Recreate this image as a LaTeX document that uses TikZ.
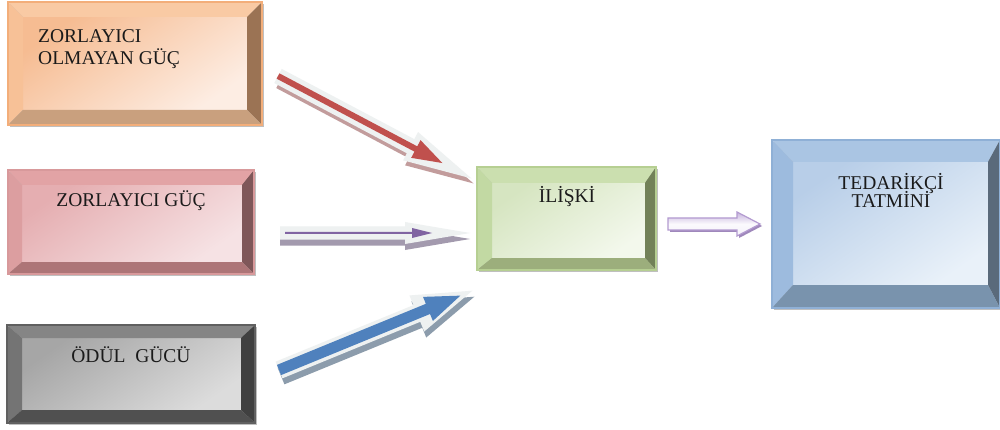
\documentclass[tikz,border=0pt]{standalone}
\usepackage{fontspec}
\setmainfont{Liberation Serif}
\usetikzlibrary{calc,fit}

% colour sets: face gradient, bevel sides and outer edge
\definecolor{zor-face1}{HTML}{F6BC92}\definecolor{zor-face2}{HTML}{FDEDE3}
\definecolor{zor-top}{HTML}{F9CAA4}\definecolor{zor-left}{HTML}{F7C197}
\definecolor{zor-right}{HTML}{9B7354}\definecolor{zor-bottom}{HTML}{C9A07E}
\definecolor{zor-edge}{HTML}{F3AE7A}

\definecolor{zg-face1}{HTML}{E5AEB1}\definecolor{zg-face2}{HTML}{F6E2E4}
\definecolor{zg-top}{HTML}{E2A3A5}\definecolor{zg-left}{HTML}{DC9EA0}
\definecolor{zg-right}{HTML}{7F5759}\definecolor{zg-bottom}{HTML}{AD7577}
\definecolor{zg-edge}{HTML}{D8999B}

\definecolor{od-face1}{HTML}{A6A6A6}\definecolor{od-face2}{HTML}{DCDCDC}
\definecolor{od-top}{HTML}{858585}\definecolor{od-left}{HTML}{747474}
\definecolor{od-right}{HTML}{404040}\definecolor{od-bottom}{HTML}{505050}
\definecolor{od-edge}{HTML}{606060}

\definecolor{il-face1}{HTML}{D6E5C1}\definecolor{il-face2}{HTML}{F3F8EC}
\definecolor{il-top}{HTML}{CBDFAF}\definecolor{il-left}{HTML}{C2D9A3}
\definecolor{il-right}{HTML}{728158}\definecolor{il-bottom}{HTML}{9CAE7C}
\definecolor{il-edge}{HTML}{B6CF92}

\definecolor{td-face1}{HTML}{B8CEE8}\definecolor{td-face2}{HTML}{E9F1F9}
\definecolor{td-top}{HTML}{AAC5E3}\definecolor{td-left}{HTML}{9DBBDE}
\definecolor{td-right}{HTML}{5A6A7B}\definecolor{td-bottom}{HTML}{7993AD}
\definecolor{td-edge}{HTML}{8FB0D6}

\definecolor{arrowlight}{HTML}{EEF1F1}
\definecolor{redarrow}{HTML}{C0504D}\definecolor{redshadow}{HTML}{C29C9C}
\definecolor{purparrow}{HTML}{8064A2}\definecolor{purpshadow}{HTML}{A39AAE}
\definecolor{bluearrow}{HTML}{4F81BD}\definecolor{blueshadow}{HTML}{8C9CAC}
\definecolor{lavedge}{HTML}{B39BD0}\definecolor{lavshadow}{HTML}{9F88BB}
\definecolor{lavtop}{HTML}{F5F1FA}\definecolor{lavbot}{HTML}{C6B3DD}
\definecolor{textcol}{HTML}{1A1A1A}

\tikzset{
  boxnode/.style={inner sep=0pt, outer sep=0pt},
  lbl/.style={font=\fontsize{19.5}{22}\selectfont, text=textcol, inner sep=0pt},
  boxshadow/.style={fill=black!25},
}

% bevelled box: name:(x1,y1)(x2,y2)[left,top,right,bottom bevel]
\def\bevelbox#1:(#2,#3)(#4,#5)[#6,#7,#8,#9]{%
  \fill[boxshadow] ({#2+2},{#3+2}) rectangle ({#4+2},{#5+2});
  \shade[top color=#1-face1, bottom color=#1-face2, shading angle=35]
    ({#2+#6},{#3+#7}) rectangle ({#4-#8},{#5-#9});
  \fill[#1-top] (#2,#3) -- (#4,#3) -- ({#4-#8},{#3+#7}) -- ({#2+#6},{#3+#7}) -- cycle;
  \fill[#1-left] (#2,#3) -- ({#2+#6},{#3+#7}) -- ({#2+#6},{#5-#9}) -- (#2,#5) -- cycle;
  \fill[#1-right] (#4,#3) -- (#4,#5) -- ({#4-#8},{#5-#9}) -- ({#4-#8},{#3+#7}) -- cycle;
  \fill[#1-bottom] (#2,#5) -- (#4,#5) -- ({#4-#8},{#5-#9}) -- ({#2+#6},{#5-#9}) -- cycle;
  \draw[#1-edge, line width=1.2pt] (#2,#3) rectangle (#4,#5);
  \node[boxnode, fit={(#2,#3) (#4,#5)}] (#1) {};
}

% block arrow along the local x axis: length, shaft half width, head half width, head length
\def\arrowshape#1#2#3#4{(0,-#2) -- ({#1-#4},-#2) -- ({#1-#4},-#3) -- (#1,0)
  -- ({#1-#4},#3) -- ({#1-#4},#2) -- (0,#2) -- cycle}

\begin{document}
\begin{tikzpicture}[x=1pt,y=-1pt]
\useasboundingbox[fill=white] (0,0) rectangle (1000,430);

% boxes
\bevelbox zor:(8,2)(262,125)[15,15,15,15]
\bevelbox zg:(8,170)(254,274)[14,15,12,12]
\bevelbox od:(7,325)(255,423)[15,13,14,13]
\bevelbox il:(477,167)(656,270)[15,16,11,12]
\bevelbox td:(772,140)(1000,308)[21,22,12,23]

% labels (base of a two-line label is the baseline of its last line)
\node[lbl, anchor=base west, align=left] (zor-t) at (38,65)
  {ZORLAYICI\\OLMAYAN GÜÇ};
\node[lbl, anchor=base] (zg-t) at (131,207) {ZORLAYICI GÜÇ};
\node[lbl, anchor=base] (od-t) at (131,362) {ÖDÜL\ \ GÜCÜ};
\node[lbl, anchor=base] (il-t) at (567,203) {İLİŞKİ};
\node[lbl, anchor=base, align=center,
      font={\fontsize{19.5}{18}\selectfont\lineskiplimit=-20pt}]
  (td-t) at (891,208) {TEDARİKÇİ\\TATMİNİ};

% arrow end points
\coordinate (zor-out) at (278,76);
\coordinate (zg-out) at (280,233);
\coordinate (od-out) at (279,370);
\coordinate (il-out) at (668,224);

% red arrow: zor -> il
\begin{scope}[shift={(zor-out)}, shift={(2,5)}, rotate=-27.9]
  \fill[redshadow] \arrowshape{219}{8}{16}{69};
\end{scope}
\begin{scope}[shift={(zor-out)}, rotate=-27.9]
  \fill[arrowlight] \arrowshape{219}{8}{16}{69};
  \fill[redarrow] \arrowshape{186}{3}{10}{30};
\end{scope}

% purple arrow: zg -> il
\begin{scope}[shift={(zg-out)}, shift={(0,6)}]
  \fill[purpshadow] \arrowshape{190}{6.5}{11}{65};
\end{scope}
\begin{scope}[shift={(zg-out)}]
  \fill[arrowlight] \arrowshape{190}{6.5}{11}{65};
\end{scope}
\begin{scope}[shift={(zg-out)}, shift={(5,0)}]
  \fill[purparrow] \arrowshape{147}{1}{5}{20};
\end{scope}

% blue arrow: od -> il
\begin{scope}[shift={(od-out)}, shift={(2,6)}, rotate=22.3]
  \fill[blueshadow] \arrowshape{209}{9}{19.5}{60};
\end{scope}
\begin{scope}[shift={(od-out)}, rotate=22.3]
  \fill[arrowlight] \arrowshape{209}{9}{19.5}{60};
  \fill[bluearrow] \arrowshape{196}{5.5}{13}{35};
\end{scope}

% lavender arrow: il -> td
\begin{scope}[shift={(il-out)}, shift={(2,2)}]
  \fill[lavshadow] \arrowshape{92}{6}{12}{23};
\end{scope}
\begin{scope}[shift={(il-out)}]
  \shade[top color=lavbot, bottom color=lavtop, middle color=white!60!lavtop, draw=lavedge, line width=1.2pt]
    \arrowshape{92}{6}{12}{23};
\end{scope}
\end{tikzpicture}
\end{document}
